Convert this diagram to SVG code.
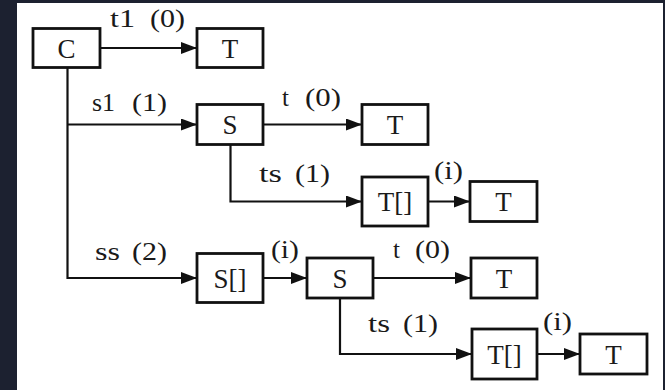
<svg xmlns="http://www.w3.org/2000/svg" width="665" height="390" viewBox="0 0 665 390">
<style>
.box{fill:#fff;stroke:#111;stroke-width:2.8}
.nt{font-family:"Liberation Serif","DejaVu Serif","Noto Serif",serif;font-size:27px;fill:#1a1a1a;text-anchor:middle}
.lb{font-family:"Liberation Serif","DejaVu Serif","Noto Serif",serif;font-size:25px;fill:#1a1a1a}
.cn{fill:none;stroke:#111;stroke-width:2.2}
</style>
<defs>
<marker id="ah" markerUnits="userSpaceOnUse" markerWidth="17" markerHeight="13" refX="16" refY="6" orient="auto">
<path d="M0,0 L16,6 L0,12 z" fill="#111"/>
</marker>
</defs>
<rect x="0" y="0" width="665" height="390" fill="#1c2130"/>
<rect x="17" y="3" width="646" height="387" fill="#fff"/>
<g id="connectors">
<path class="cn" d="M100,48 H197" marker-end="url(#ah)"/>
<path class="cn" d="M67.5,67.5 V278 H197" marker-end="url(#ah)"/>
<path class="cn" d="M67.5,124.5 H197" marker-end="url(#ah)"/>
<path class="cn" d="M263,124.5 H362" marker-end="url(#ah)"/>
<path class="cn" d="M230.5,145 V201.5 H362" marker-end="url(#ah)"/>
<path class="cn" d="M428,201.5 H470" marker-end="url(#ah)"/>
<path class="cn" d="M263,278 H307" marker-end="url(#ah)"/>
<path class="cn" d="M373,278 H471" marker-end="url(#ah)"/>
<path class="cn" d="M340,298 V354 H472" marker-end="url(#ah)"/>
<path class="cn" d="M537,354 H580" marker-end="url(#ah)"/>
</g>
<g id="labels">
<text class="lb" y="27"><tspan x="110" textLength="25" lengthAdjust="spacingAndGlyphs">t1</tspan><tspan x="150" textLength="35" lengthAdjust="spacingAndGlyphs">(0)</tspan></text>
<text class="lb" y="111"><tspan x="92" textLength="23" lengthAdjust="spacingAndGlyphs">s1</tspan><tspan x="132" textLength="35" lengthAdjust="spacingAndGlyphs">(1)</tspan></text>
<text class="lb" y="106"><tspan x="282">t</tspan><tspan x="305" textLength="36" lengthAdjust="spacingAndGlyphs">(0)</tspan></text>
<text class="lb" y="182"><tspan x="259" textLength="23" lengthAdjust="spacingAndGlyphs">ts</tspan><tspan x="295" textLength="35" lengthAdjust="spacingAndGlyphs">(1)</tspan></text>
<text class="lb" y="179" x="434" textLength="29" lengthAdjust="spacingAndGlyphs">(i)</text>
<text class="lb" y="260"><tspan x="95" textLength="25" lengthAdjust="spacingAndGlyphs">ss</tspan><tspan x="132" textLength="35" lengthAdjust="spacingAndGlyphs">(2)</tspan></text>
<text class="lb" y="258" x="271" textLength="28" lengthAdjust="spacingAndGlyphs">(i)</text>
<text class="lb" y="258"><tspan x="393">t</tspan><tspan x="415" textLength="35" lengthAdjust="spacingAndGlyphs">(0)</tspan></text>
<text class="lb" y="332"><tspan x="368" textLength="22" lengthAdjust="spacingAndGlyphs">ts</tspan><tspan x="403" textLength="35" lengthAdjust="spacingAndGlyphs">(1)</tspan></text>
<text class="lb" y="330" x="543" textLength="29" lengthAdjust="spacingAndGlyphs">(i)</text>
</g>
<g id="node-C"><rect class="box" x="33" y="28.5" width="67" height="39"/><text class="nt" x="66.5" y="57.5">C</text></g>
<g id="node-T1"><rect class="box" x="197" y="28.5" width="66" height="39"/><text class="nt" x="230" y="57.5">T</text></g>
<g id="node-S1"><rect class="box" x="197" y="104.5" width="66" height="40"/><text class="nt" x="230" y="134">S</text></g>
<g id="node-T2"><rect class="box" x="362" y="104.5" width="66" height="40"/><text class="nt" x="395" y="134">T</text></g>
<g id="node-TA1"><rect class="box" x="362" y="177" width="66" height="49"/><text class="nt" x="395" y="211">T[]</text></g>
<g id="node-T3"><rect class="box" x="470" y="181.5" width="67" height="40"/><text class="nt" x="503.5" y="211">T</text></g>
<g id="node-SA"><rect class="box" x="197" y="253.5" width="66" height="49"/><text class="nt" x="230" y="287.5">S[]</text></g>
<g id="node-S2"><rect class="box" x="307" y="258" width="66" height="40"/><text class="nt" x="340" y="287.5">S</text></g>
<g id="node-T4"><rect class="box" x="471" y="258" width="66" height="40"/><text class="nt" x="504" y="287.5">T</text></g>
<g id="node-TA2"><rect class="box" x="472" y="329" width="65" height="50"/><text class="nt" x="504.5" y="363.5">T[]</text></g>
<g id="node-T5"><rect class="box" x="580" y="334" width="67" height="40"/><text class="nt" x="613.5" y="363.5">T</text></g>
</svg>
